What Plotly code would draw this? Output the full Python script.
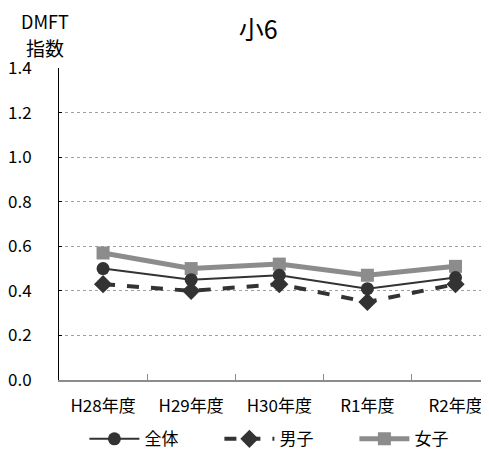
import plotly.graph_objects as go

years = ["H28年度", "H29年度", "H30年度", "R1年度", "R2年度"]
total = [0.50, 0.45, 0.47, 0.41, 0.46]
boys = [0.43, 0.40, 0.43, 0.35, 0.43]
girls = [0.57, 0.50, 0.52, 0.47, 0.51]

FONT = "Noto Sans CJK JP"
DARK = "#333333"
GRAY = "#8c8c8c"

fig = go.Figure()

fig.add_trace(go.Scatter(
    x=years, y=girls, name="女子", mode="lines+markers",
    line=dict(color=GRAY, width=5),
    marker=dict(symbol="square", size=13, color=GRAY),
    legendrank=3,
))
fig.add_trace(go.Scatter(
    x=years, y=total, name="全体", mode="lines+markers",
    line=dict(color=DARK, width=2),
    marker=dict(symbol="circle", size=13, color=DARK),
    legendrank=1,
))
fig.add_trace(go.Scatter(
    x=years, y=boys, name="男子", mode="lines+markers",
    line=dict(color=DARK, width=4, dash="dash"),
    marker=dict(symbol="diamond", size=14, color=DARK),
    legendrank=2,
))

# the page body adds an 8px margin, so the figure is 8px smaller than the window
fig.update_layout(
    width=481, height=446,
    margin=dict(l=51, r=0, t=60, b=74, autoexpand=False),
    plot_bgcolor="white", paper_bgcolor="white",
    font=dict(family=FONT, size=17, color="#000000"),
    title=dict(text="小6", x=0.52, xanchor="center", y=0.95, yanchor="middle",
               font=dict(size=25, family=FONT)),
    showlegend=True,
    legend=dict(orientation="h", x=0.53, xanchor="center", y=-0.19, yanchor="middle",
                traceorder="normal", font=dict(size=17), itemwidth=50,
                entrywidth=70, entrywidthmode="pixels",
                bgcolor="rgba(0,0,0,0)"),
    xaxis=dict(
        type="category", range=[-0.5, 4.38], automargin=False,
        showline=True, linecolor=GRAY, linewidth=2,
        ticks="inside", tickson="boundaries", ticklen=6, tickcolor=GRAY, tickwidth=1,
        showgrid=False, ticklabelstandoff=10,
        tickfont=dict(size=17),
    ),
    yaxis=dict(
        range=[0, 1.4], dtick=0.2, tickformat=".1f", automargin=False,
        showline=True, linecolor="#000000", linewidth=1,
        ticks="inside", ticklen=3, tickcolor="#000000",
        showgrid=True, gridcolor="#a0a0a0", griddash="dot", gridwidth=1,
        zeroline=False, ticklabelstandoff=23,
        tickfont=dict(size=17),
    ),
)

fig.add_annotation(
    text="DMFT", xref="paper", yref="paper",
    x=-0.033, y=1.152, xanchor="center", yanchor="middle",
    showarrow=False, font=dict(size=18, family=FONT),
)
fig.add_annotation(
    text="指数", xref="paper", yref="paper",
    x=-0.033, y=1.066, xanchor="center", yanchor="middle",
    showarrow=False, font=dict(size=19, family=FONT),
)

fig.write_html("out.html")
